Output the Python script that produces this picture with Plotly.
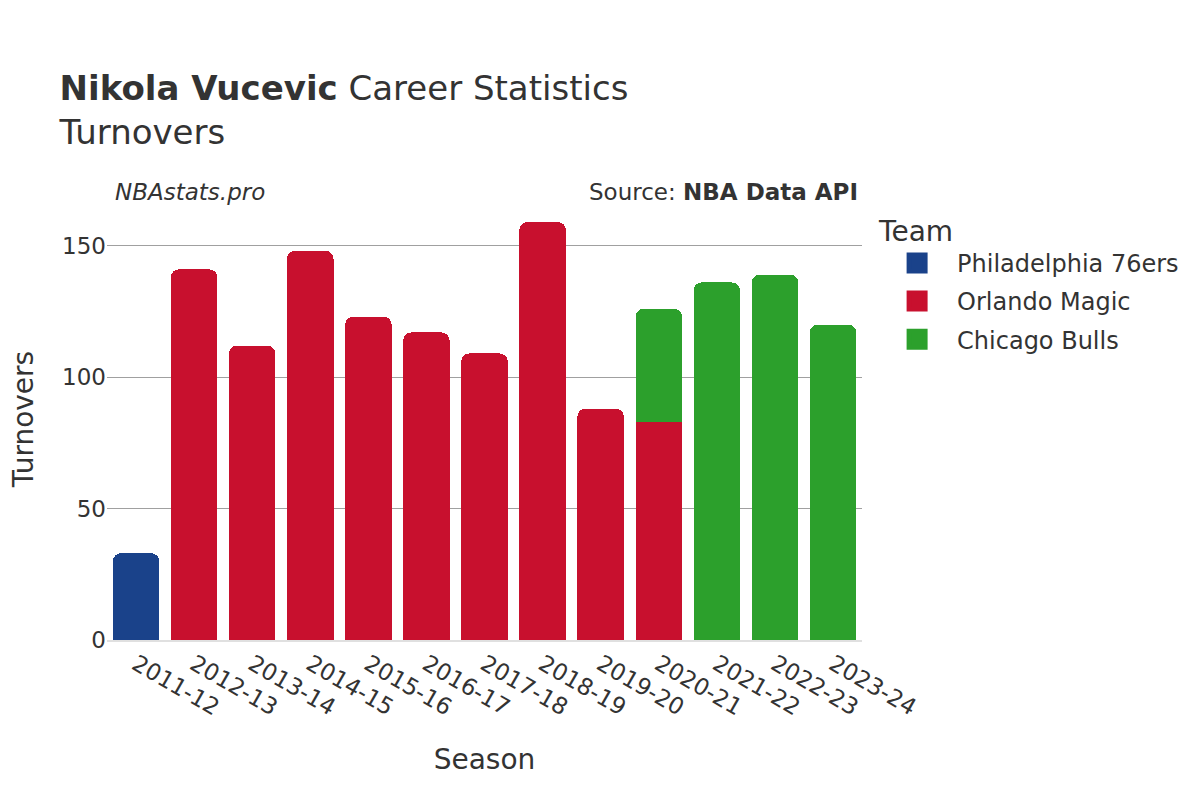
import plotly.graph_objects as go

seasons = ["2011-12", "2012-13", "2013-14", "2014-15", "2015-16", "2016-17", "2017-18",
           "2018-19", "2019-20", "2020-21", "2021-22", "2022-23", "2023-24"]

phi_seasons = ["2011-12"]
phi_values = [33]

orl_seasons = ["2012-13", "2013-14", "2014-15", "2015-16", "2016-17", "2017-18",
               "2018-19", "2019-20", "2020-21"]
orl_values = [141, 112, 148, 123, 117, 109, 159, 88, 83]

chi_seasons = ["2020-21", "2021-22", "2022-23", "2023-24"]
chi_values = [43, 136, 139, 120]

teams = ["Philadelphia 76ers", "Orlando Magic", "Chicago Bulls"]
colors = ["#1a428a", "#c8102e", "#2ca02c"]

font = "DejaVu Sans"
fig = go.Figure()
for name, xs, ys, c in zip(teams, [phi_seasons, orl_seasons, chi_seasons],
                           [phi_values, orl_values, chi_values], colors):
    fig.add_trace(go.Bar(x=xs, y=ys, name=name, legendgroup=name, showlegend=False,
                         marker=dict(color=c, line=dict(width=0))))
# legend entries with larger swatches
for name, c in zip(teams, colors):
    fig.add_trace(go.Scatter(x=[None], y=[None], mode="markers", name=name, legendgroup=name,
                             marker=dict(symbol="square", size=16, color=c,
                                         line=dict(color=c, width=5))))

fig.update_layout(
    barmode="stack",
    barcornerradius=8,
    width=1200, height=800,
    paper_bgcolor="white", plot_bgcolor="white",
    font=dict(family=font, color="#333333", size=22),
    margin=dict(l=99, r=346, t=192, b=168),
    title=dict(text="<b>Nikola Vucevic</b> Career Statistics<br>Turnovers",
               x=0.043, xanchor="left", y=0.885, yanchor="top",
               font=dict(size=34, family=font, color="#333333")),
    legend=dict(title=dict(text="Team", font=dict(size=28)), font=dict(size=24),
                traceorder="grouped", itemsizing="trace", tracegroupgap=4, itemwidth=70,
                x=1.02, xanchor="left", y=0.99, yanchor="top"),
    xaxis=dict(type="category", title=dict(text="Season", font=dict(size=28), standoff=30),
               tickangle=30,
               categoryorder="array", categoryarray=seasons, automargin=False,
               showline=True, linecolor="#e0e0e0", linewidth=2, tickfont=dict(size=23)),
    yaxis=dict(showgrid=True, automargin=False,
               gridcolor="#a0a0a0", gridwidth=1, zeroline=False, tickfont=dict(size=23),
               dtick=50),
    bargap=0.2,
    annotations=[
        dict(text="Turnovers", xref="paper", yref="paper", x=-0.111, y=0.5,
             xanchor="center", yanchor="middle", textangle=-90, showarrow=False,
             font=dict(size=28)),
        dict(text="<i>NBAstats.pro</i>", xref="paper", yref="paper", x=0.008, y=1.0,
             xanchor="left", yanchor="bottom", showarrow=False, font=dict(size=23), yshift=-7),
        dict(text="Source: <b>NBA Data API</b>", xref="paper", yref="paper", x=0.998, y=1.0,
             xanchor="right", yanchor="bottom", showarrow=False, font=dict(size=23), yshift=-7),
    ],
)
fig.write_html("out.html")
